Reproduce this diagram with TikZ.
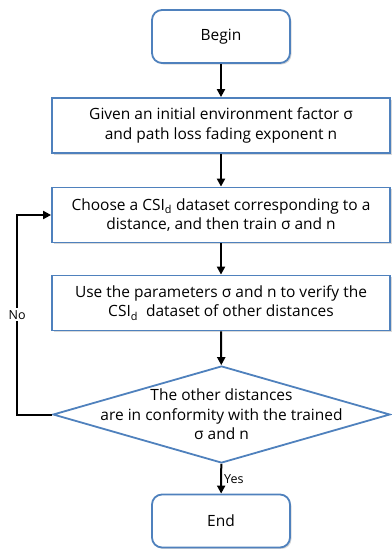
\documentclass[tikz,border=0pt]{standalone}
\usepackage{fontspec}
\setmainfont{Open Sans}
\usepackage{tikz}
\usetikzlibrary{arrows.meta,positioning,shapes,shadows}
\definecolor{boxBlue}{RGB}{79,129,189}

\begin{document}
\begin{tikzpicture}[x=1pt,y=-1pt,
    every node/.style={font=\fontsize{15.5}{19.5}\selectfont},
    term/.style={draw=boxBlue, line width=1.8pt, rounded corners=10pt, fill=white,
      minimum width=138pt, minimum height=53pt,
      drop shadow={shadow xshift=1.5pt, shadow yshift=-1.5pt, opacity=0.3}},
    proc/.style={draw=boxBlue, line width=1.8pt, fill=white, align=center,
      minimum width=338pt, minimum height=55pt,
      drop shadow={shadow xshift=1.5pt, shadow yshift=-1.5pt, opacity=0.3}},
    flow/.style={-{Triangle[length=8pt,width=8pt]}, line width=2pt},
    tag/.style={font=\fontsize{12.5}{14}\selectfont, inner sep=2pt}]
    \useasboundingbox (0,0) rectangle (391,549);
    % Start
    \node[term] (begin) at (221,36.5) {Begin};
    % Steps
    \node[proc] (init) at (221,125.5)
      {Given an initial environment factor σ\\and path loss fading exponent n};
    \node[proc] (choose) at (221,215)
      {Choose a CSI\textsubscript{d} dataset corresponding to a\\distance, and then train σ and n};
    \node[proc] (verify) at (221,303)
      {Use the parameters σ and n to verify the\\CSI\textsubscript{d}\ \ dataset of other distances};
    % Decision
    \node[diamond, draw=boxBlue, line width=1.8pt, fill=white, inner sep=0pt,
      minimum width=337pt, minimum height=97pt] (check) at (221.5,414.5) {};
    \node[align=center] (checktext) at (check.center)
      {The other distances\\are in conformity with the trained\\σ and n};
    % Stop
    \node[term] (end) at (221,521) {End};
    % Arrows
    \draw[flow] (begin) -- (init);
    \draw[flow] (init) -- (choose);
    \draw[flow] (choose) -- (verify);
    \draw[flow] (verify) -- (check);
    \draw[flow] (check) -- (end) node[midway, right, tag] {Yes};
    \draw[flow] (check.west) -- ++(-35,0) |- (choose.west)
      node[pos=0.25, fill=white, tag] {No};
\end{tikzpicture}
\end{document}
